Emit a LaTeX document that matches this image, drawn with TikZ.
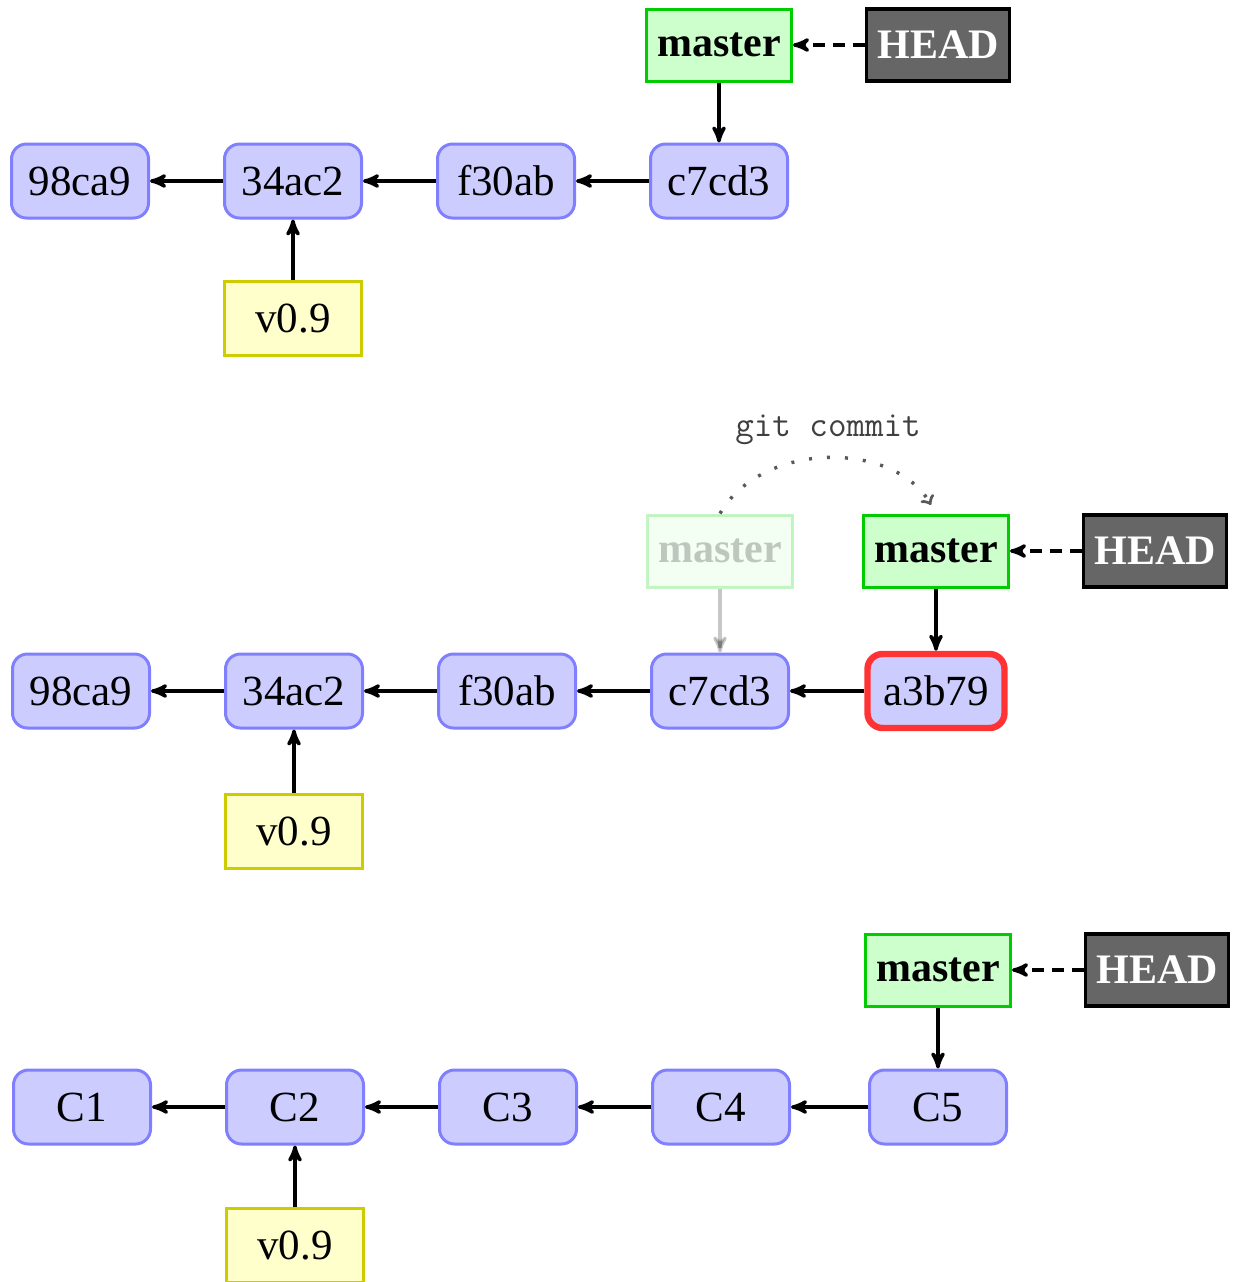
\documentclass[tikz,border=0pt]{standalone}
\usepackage{fontspec}
\setmainfont{Liberation Serif}
\usetikzlibrary{arrows}

\definecolor{commitfill}{HTML}{CCCCFF}
\definecolor{commitline}{HTML}{8080FF}
\definecolor{branchfill}{HTML}{CCFFCC}
\definecolor{branchline}{HTML}{00CC00}
\definecolor{tagfill}{HTML}{FFFFCC}
\definecolor{tagline}{HTML}{CCCC00}
\definecolor{headfill}{HTML}{666666}
\definecolor{newline}{HTML}{FF3333}

\begin{document}
\begin{tikzpicture}[x=0.5pt, y=-0.5pt, ->, >=stealth', node distance=106.5pt,
	every edge/.append style={line width=1.7pt},
	commit/.style={rectangle, rounded corners=7.5pt, draw=commitline, fill=commitfill, line width=1.5pt, minimum width=68.5pt, minimum height=37pt, font=\fontsize{21.5}{25}\selectfont},
	newcommit/.style={commit, draw=newline, line width=3.2pt},
	branch/.style={rectangle, draw=branchline, fill=branchfill, line width=1.5pt, minimum width=72.5pt, minimum height=36pt, font=\fontsize{21}{25}\selectfont\bfseries},
	oldbranch/.style={branch, opacity=0.22},
	headref/.style={rectangle, draw=black, fill=headfill, line width=1.8pt, text=white, minimum width=71.5pt, minimum height=36pt, font=\fontsize{21}{25}\selectfont\bfseries},
	tag/.style={rectangle, draw=tagline, fill=tagfill, line width=1.5pt, minimum width=68.5pt, minimum height=37pt, font=\fontsize{21.5}{25}\selectfont}]

		\useasboundingbox (0,0) rectangle (1233,1282);

		% before the commit
		\node[commit] (a1) at (80,181) {98ca9};
		\node[commit] (b1) [right of=a1] {34ac2};
		\node[commit] (c1) [right of=b1] {f30ab};
		\node[commit] (d1) [right of=c1] {c7cd3};
		\node[branch] (m1) [above of=d1, node distance=68pt] {master};
		\node[headref] (h1) [right of=m1, node distance=109.5pt] {HEAD};
		\node[tag] (t1) [below of=b1, node distance=68.5pt] {v0.9};

		\path
		(b1) edge (a1)
		(c1) edge (b1)
		(d1) edge (c1)
		(m1) edge (d1)
		(t1) edge (b1)
		(h1) edge[dash pattern=on 6pt off 4pt] (m1);

		% after the commit
		\node[commit] (a2) at (81,691) {98ca9};
		\node[commit] (b2) [right of=a2] {34ac2};
		\node[commit] (c2) [right of=b2] {f30ab};
		\node[commit] (d2) [right of=c2] {c7cd3};
		\node[newcommit] (e2) [right of=d2, node distance=108pt] {a3b79};
		\node[oldbranch] (o2) [above of=d2, node distance=70pt] {master};
		\node[branch] (m2) [above of=e2, node distance=70pt] {master};
		\node[headref] (h2) [right of=m2, node distance=109.5pt] {HEAD};
		\node[tag] (t2) [below of=b2, node distance=70pt] {v0.9};

		\path
		(b2) edge (a2)
		(c2) edge (b2)
		(d2) edge (c2)
		(e2) edge (d2)
		(o2) edge[opacity=0.22] (d2)
		(m2) edge (e2)
		(t2) edge (b2)
		(h2) edge[dash pattern=on 6pt off 4pt] (m2);

		\draw[-to, black!65, line width=1.7pt, dash pattern=on 1.5pt off 7.5pt, shorten >=5pt]
		(o2.north) to[out=60, in=120] node[above=3pt, text=black!75, font=\fontsize{18}{20}\ttfamily] {git commit} (m2.north);

		% generic names
		\node[commit] (a3) at (82,1107) {C1};
		\node[commit] (b3) [right of=a3] {C2};
		\node[commit] (c3) [right of=b3] {C3};
		\node[commit] (d3) [right of=c3] {C4};
		\node[commit] (e3) [right of=d3, node distance=108.5pt] {C5};
		\node[branch] (m3) [above of=e3, node distance=68.5pt] {master};
		\node[headref] (h3) [right of=m3, node distance=109.5pt] {HEAD};
		\node[tag] (t3) [below of=b3, node distance=69pt] {v0.9};

		\path
		(b3) edge (a3)
		(c3) edge (b3)
		(d3) edge (c3)
		(e3) edge (d3)
		(m3) edge (e3)
		(t3) edge (b3)
		(h3) edge[dash pattern=on 6pt off 4pt] (m3);

\end{tikzpicture}
\end{document}
